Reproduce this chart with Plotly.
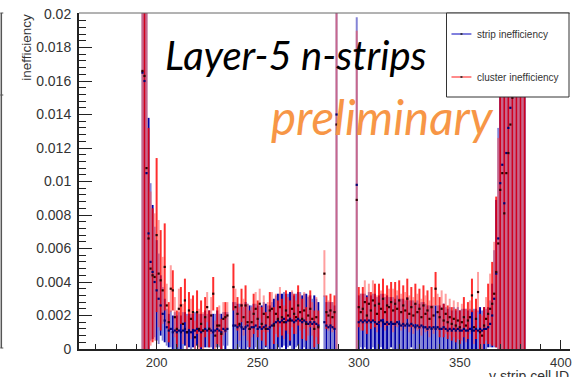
import plotly.graph_objects as go

# ---------------- data ----------------
cell_id = list(range(193, 383))

strip_ineff = [
    0.0165, 0.0160, 0.0105, 0.0069, 0.0052, 0.0046, 0.0040,
    0.0035, 0.0030, 0.0026, 0.0021, 0.0017, 0.0013, 0.0011, 0.0012, 0.0010, 0.0011,
    0.0010, 0.0011, 0.0010, 0.0011, 0.0012, 0.0010, 0.0011, 0.0010, 0.0011, 0.0011,
    0.0012, 0.0011, 0.0010, 0.0011, 0.0012, 0.0011, 0.0012, 0.0011, 0.0010, 0.0011,
    0.0012, 0.0011, 0.0010, 0.0012, 0.0011, 0.0012, None, None, 0.0014, 0.0014,
    0.0013, 0.0014, 0.0013, 0.0012, 0.0013, 0.0014, 0.0012, 0.0013, 0.0013, 0.0014,
    0.0012, 0.0013, 0.0012, 0.0013, 0.0014, 0.0012, 0.0013, 0.0014, 0.0015, 0.0016,
    0.0017, 0.0016, 0.0017, 0.0018, 0.0016, 0.0017, 0.0018, 0.0017, 0.0016, 0.0017,
    0.0018, 0.0017, 0.0016, 0.0017, 0.0016, 0.0015, 0.0016, 0.0015, 0.0016, 0.0015,
    0.0014, None, None, 0.0016, 0.0014, 0.0013, 0.0014, 0.0013, 0.0012, 0.0140,
    None, None, None, None, None, None, None, None, None, 0.0098,
    0.0016, 0.0017, 0.0016, 0.0017, 0.0016, 0.0017, 0.0016, 0.0017, 0.0016, 0.0015,
    0.0016, 0.0017, 0.0016, 0.0015, 0.0016, 0.0015, 0.0016, 0.0015, 0.0015, 0.0016,
    0.0015, 0.0014, 0.0015, 0.0014, 0.0015, 0.0014, 0.0015, 0.0014, 0.0013, 0.0014,
    0.0013, 0.0014, 0.0013, 0.0013, 0.0012, 0.0013, 0.0012, 0.0013, 0.0012, 0.0013,
    0.0012, 0.0012, 0.0013, 0.0012, 0.0011, 0.0012, 0.0011, 0.0012, 0.0011, 0.0012,
    0.0011, 0.0011, 0.0012, 0.0011, 0.0011, 0.0012, 0.0011, 0.0011, 0.0012, 0.0011,
    0.0012, 0.0011, 0.0012, 0.0012, 0.0013, 0.0015, 0.0020, 0.0030, 0.0045, 0.0066,
    0.0099, 0.0110, 0.0087, 0.0117, 0.0132, 0.0144, 0.0160, 0.0175, 0.0190, 0.0200,
    0.0210, 0.0220, 0.0230,
]

strip_err = [
    0.0170, 0.0165, 0.0110, 0.0069, 0.0047, 0.0040, 0.0033,
    0.0030, 0.0027, 0.0018, 0.0016, 0.0013, 0.0011, 0.0010, 0.0011, 0.0010, 0.0011,
    0.0010, 0.0011, 0.0010, 0.0011, 0.0010, 0.0011, 0.0010, 0.0011, 0.0010, 0.0011,
    0.0010, 0.0010, 0.0011, 0.0010, 0.0011, 0.0010, 0.0011, 0.0010, 0.0011, 0.0010,
    0.0011, 0.0010, 0.0011, 0.0010, 0.0011, 0.0010, None, None, 0.0014, 0.0014,
    0.0014, 0.0013, 0.0014, 0.0013, 0.0015, 0.0013, 0.0014, 0.0013, 0.0014, 0.0013,
    0.0014, 0.0013, 0.0014, 0.0015, 0.0013, 0.0014, 0.0013, 0.0014, 0.0015, 0.0016,
    0.0016, 0.0017, 0.0016, 0.0016, 0.0017, 0.0016, 0.0016, 0.0017, 0.0016, 0.0016,
    0.0016, 0.0017, 0.0016, 0.0016, 0.0017, 0.0016, 0.0016, 0.0015, 0.0016, 0.0015,
    0.0014, None, None, 0.0016, 0.0014, 0.0015, 0.0014, 0.0015, 0.0014, 0.0145,
    None, None, None, None, None, None, None, None, None, 0.0100,
    0.0016, 0.0016, 0.0017, 0.0016, 0.0016, 0.0017, 0.0016, 0.0016, 0.0017, 0.0016,
    0.0016, 0.0016, 0.0017, 0.0016, 0.0016, 0.0016, 0.0015, 0.0016, 0.0015, 0.0016,
    0.0015, 0.0016, 0.0015, 0.0015, 0.0016, 0.0015, 0.0014, 0.0015, 0.0014, 0.0015,
    0.0014, 0.0014, 0.0015, 0.0014, 0.0014, 0.0013, 0.0014, 0.0013, 0.0014, 0.0013,
    0.0014, 0.0013, 0.0014, 0.0013, 0.0013, 0.0013, 0.0012, 0.0013, 0.0012, 0.0013,
    0.0012, 0.0013, 0.0012, 0.0013, 0.0012, 0.0012, 0.0012, 0.0013, 0.0012, 0.0012,
    0.0013, 0.0012, 0.0013, 0.0012, 0.0012, 0.0014, 0.0019, 0.0029, 0.0044, 0.0066,
    0.0099, 0.0110, 0.0087, 0.0117, 0.0132, 0.0144, 0.0160, 0.0175, 0.0190, 0.0200,
    0.0210, 0.0220, 0.0230,
]

cluster_ineff = [
    0.0166, 0.0163, 0.0108, 0.0066, 0.0048, 0.0044, 0.0043,
    0.0068, 0.0045, 0.0041, 0.0035, 0.0049, 0.0026, 0.0016, 0.0036, 0.0035, 0.0019,
    0.0012, 0.0024, 0.0026, 0.0015, 0.0029, 0.0010, 0.0023, 0.0018, 0.0022, 0.0007,
    0.0022, 0.0012, 0.0015, 0.0011, 0.0019, 0.0025, 0.0012, 0.0020, 0.0033, 0.0008,
    0.0014, 0.0014, 0.0009, 0.0018, 0.0019, 0.0020, None, None, 0.0037, 0.0025,
    0.0021, 0.0015, 0.0026, 0.0019, 0.0026, 0.0016, 0.0012, 0.0016, 0.0021, 0.0024,
    0.0018, 0.0027, 0.0015, 0.0021, 0.0012, 0.0019, 0.0023, 0.0024, 0.0014, 0.0021,
    0.0018, 0.0025, 0.0019, 0.0016, 0.0023, 0.0020, 0.0017, 0.0024, 0.0021, 0.0019,
    0.0026, 0.0022, 0.0018, 0.0023, 0.0015, 0.0020, 0.0024, 0.0018, 0.0012, 0.0019,
    0.0013, None, None, 0.0045, 0.0022, 0.0020, 0.0023, 0.0019, 0.0022, 0.0134,
    None, None, None, None, None, None, None, None, None, 0.0089,
    0.0025, 0.0022, 0.0024, 0.0028, 0.0020, 0.0027, 0.0023, 0.0029, 0.0026, 0.0021,
    0.0027, 0.0024, 0.0030, 0.0022, 0.0026, 0.0025, 0.0028, 0.0023, 0.0027, 0.0024,
    0.0029, 0.0022, 0.0026, 0.0023, 0.0030, 0.0021, 0.0025, 0.0020, 0.0027, 0.0022,
    0.0024, 0.0019, 0.0026, 0.0021, 0.0023, 0.0018, 0.0025, 0.0020, 0.0036, 0.0022,
    0.0019, 0.0024, 0.0017, 0.0021, 0.0016, 0.0019, 0.0015, 0.0018, 0.0014, 0.0017,
    0.0013, 0.0016, 0.0019, 0.0014, 0.0017, 0.0019, 0.0032, 0.0013, 0.0018, 0.0034,
    0.0010, 0.0008, 0.0014, 0.0018, 0.0021, 0.0024, 0.0027, 0.0033, 0.0046, 0.0063,
    0.0095, 0.0105, 0.0081, 0.0105, 0.0117, 0.0134, 0.0150, 0.0168, 0.0185, 0.0200,
    0.0210, 0.0215, 0.0225,
]

cluster_err = [
    0.0172, 0.0168, 0.0115, 0.0066, 0.0046, 0.0040, 0.0038,
    0.0046, 0.0032, 0.0030, 0.0020, 0.0026, 0.0013, 0.0012, 0.0014, 0.0012, 0.0012,
    0.0011, 0.0012, 0.0011, 0.0012, 0.0013, 0.0010, 0.0011, 0.0012, 0.0010, 0.0010,
    0.0013, 0.0012, 0.0014, 0.0011, 0.0012, 0.0009, 0.0011, 0.0011, 0.0010, 0.0009,
    0.0011, 0.0012, 0.0009, 0.0010, 0.0009, 0.0008, None, None, 0.0014, 0.0011,
    0.0010, 0.0010, 0.0010, 0.0011, 0.0012, 0.0011, 0.0011, 0.0009, 0.0012, 0.0010,
    0.0011, 0.0009, 0.0010, 0.0011, 0.0010, 0.0009, 0.0011, 0.0010, 0.0011, 0.0012,
    0.0011, 0.0012, 0.0011, 0.0010, 0.0012, 0.0011, 0.0012, 0.0011, 0.0012, 0.0010,
    0.0012, 0.0011, 0.0012, 0.0011, 0.0010, 0.0012, 0.0011, 0.0010, 0.0011, 0.0012,
    0.0010, None, None, 0.0014, 0.0010, 0.0009, 0.0010, 0.0009, 0.0010, 0.0140,
    None, None, None, None, None, None, None, None, None, 0.0101,
    0.0012, 0.0011, 0.0013, 0.0013, 0.0011, 0.0012, 0.0011, 0.0012, 0.0013, 0.0011,
    0.0012, 0.0011, 0.0012, 0.0011, 0.0012, 0.0011, 0.0012, 0.0013, 0.0013, 0.0011,
    0.0012, 0.0011, 0.0012, 0.0011, 0.0012, 0.0011, 0.0012, 0.0011, 0.0012, 0.0011,
    0.0012, 0.0011, 0.0012, 0.0011, 0.0012, 0.0011, 0.0012, 0.0011, 0.0010, 0.0011,
    0.0012, 0.0011, 0.0010, 0.0012, 0.0010, 0.0011, 0.0010, 0.0011, 0.0010, 0.0011,
    0.0010, 0.0011, 0.0012, 0.0010, 0.0011, 0.0010, 0.0010, 0.0010, 0.0012, 0.0012,
    0.0011, 0.0012, 0.0011, 0.0013, 0.0018, 0.0021, 0.0025, 0.0031, 0.0045, 0.0063,
    0.0095, 0.0105, 0.0081, 0.0105, 0.0117, 0.0134, 0.0150, 0.0168, 0.0185, 0.0200,
    0.0210, 0.0215, 0.0225,
]

y_ticks = [0, 0.002, 0.004, 0.006, 0.008, 0.01, 0.012, 0.014, 0.016, 0.018, 0.02]
y_tick_text = ["0", "0.002", "0.004", "0.006", "0.008", "0.01", "0.012",
               "0.014", "0.016", "0.018", "0.02"]
x_ticks = [200, 250, 300, 350, 400]
x_tick_text = ["200", "250", "300", "350", "400"]

series_names = ["strip inefficiency", "cluster inefficiency"]

# ---------------- figure ----------------
W, H = 572, 377
L, R, T, B = 79, 0, 13, 28
PW, PH = W - L - R, H - T - B


def px(xp):
    return (xp - L) / PW


def py(yp):
    return (H - B - yp) / PH


fig = go.Figure()


def split(vals, errs, parity):
    xs, ys, es = [], [], []
    for i, v, e in zip(cell_id, vals, errs):
        if v is None or i % 2 != parity:
            continue
        xs.append(i)
        ys.append(v)
        es.append(e)
    return xs, ys, es


styles = [
    (strip_ineff, strip_err, ("#0000a8", "#8484d6")),
    (cluster_ineff, cluster_err, ("rgba(255,0,0,0.82)", "rgba(255,80,80,0.55)")),
]

for vals, errs, cols in styles:
    for parity in (0, 1):
        xs, ys, es = split(vals, errs, parity)
        fig.add_trace(go.Scatter(
            x=xs, y=ys, mode="markers",
            marker=dict(size=1, color="rgba(0,0,0,0)"),
            error_y=dict(type="data", array=es, visible=True,
                         color=cols[parity], thickness=2, width=0),
            showlegend=False, hoverinfo="skip"))

dot_colors = ["#000070", "#300000"]
for (vals, errs, _), dc in zip(styles, dot_colors):
    xs = [i for i, v in zip(cell_id, vals) if v is not None]
    ys = [v for v in vals if v is not None]
    fig.add_trace(go.Scatter(
        x=xs, y=ys, mode="markers",
        marker=dict(size=2.2, color=dc, symbol="square", line=dict(width=0)),
        showlegend=False, hoverinfo="skip"))

axis_font = dict(family="Liberation Sans, Arial, sans-serif", color="#333333")

fig.update_layout(
    width=W, height=H,
    margin=dict(l=L, r=R, t=T, b=B, pad=0),
    paper_bgcolor="white", plot_bgcolor="white",
    showlegend=False,
    xaxis=dict(
        range=[161.6, 404.5], showgrid=False, zeroline=False,
        showline=True, linecolor="#222222", linewidth=2,
        ticks="inside", ticklen=9, tickwidth=1, tickcolor="#222222",
        tickvals=x_ticks, ticktext=x_tick_text,
        tickfont=dict(size=13, **axis_font),
        ticklabeloverflow="allow",
        ticklabelstandoff=0,
        minor=dict(ticks="inside", ticklen=5, dtick=10, tick0=0,
                   tickcolor="#222222", tickwidth=1, showgrid=False),
    ),
    yaxis=dict(
        range=[0, 0.02006], showgrid=False, zeroline=False,
        showline=True, linecolor="#222222", linewidth=2,
        ticks="inside", ticklen=13, tickwidth=1, tickcolor="#222222",
        tickvals=y_ticks, ticktext=y_tick_text,
        tickfont=dict(size=14, **axis_font),
        ticklabelstandoff=3,
        minor=dict(ticks="inside", ticklen=7, dtick=0.0004, tick0=0,
                   tickcolor="#222222", tickwidth=1, showgrid=False),
    ),
)

shapes = []
# top frame line
shapes.append(dict(type="line", xref="paper", yref="paper",
                   x0=0, x1=px(W), y0=py(13), y1=py(13),
                   line=dict(color="#666666", width=1)))
# neighbouring frame at far left
shapes.append(dict(type="line", xref="paper", yref="paper",
                   x0=px(1), x1=px(1), y0=py(13), y1=py(348),
                   line=dict(color="#555555", width=1.5)))
for yy in (13, 95, 348):
    shapes.append(dict(type="line", xref="paper", yref="paper",
                       x0=px(0), x1=px(3), y0=py(yy), y1=py(yy),
                       line=dict(color="#555555", width=1)))
# legend box
shapes.append(dict(type="rect", xref="paper", yref="paper", layer="above",
                   x0=px(448), x1=px(571), y0=py(97), y1=py(13),
                   fillcolor="white", line=dict(color="#333333", width=1)))
leg_cols = ["#2a2ac8", "#ff3c3c"]
leg_y = [34, 77]
for c, yy in zip(leg_cols, leg_y):
    shapes.append(dict(type="line", xref="paper", yref="paper", layer="above",
                       x0=px(453), x1=px(473), y0=py(yy), y1=py(yy),
                       line=dict(color=c, width=1.2)))
    shapes.append(dict(type="rect", xref="paper", yref="paper", layer="above",
                       x0=px(462), x1=px(464), y0=py(yy + 0.8), y1=py(yy - 0.8),
                       fillcolor="#222222", line=dict(width=0)))
fig.update_layout(shapes=shapes)

ann = []
for name, yy in zip(series_names, leg_y):
    ann.append(dict(xref="paper", yref="paper", x=px(477), y=py(yy),
                    xanchor="left", yanchor="middle", showarrow=False,
                    text=name, font=dict(size=10, **axis_font)))
# axis titles
ann.append(dict(xref="paper", yref="paper", x=px(26), y=py(12),
                xanchor="center", yanchor="top", showarrow=False,
                textangle=-90, text="inefficiency",
                font=dict(size=13.5, **axis_font)))
ann.append(dict(xref="paper", yref="paper", x=px(489), y=py(366),
                xanchor="left", yanchor="top", showarrow=False,
                text="y strip cell ID", font=dict(size=14, **axis_font)))
# overlay labels
ann.append(dict(xref="paper", yref="paper", x=px(163), y=py(55),
                xanchor="left", yanchor="middle", showarrow=False,
                text="<i>Layer-5 n-strips</i>",
                font=dict(family="Lato, sans-serif", size=40, color="black")))
ann.append(dict(xref="paper", yref="paper", x=px(270), y=py(116),
                xanchor="left", yanchor="middle", showarrow=False,
                text="<i>preliminary</i>",
                font=dict(family="Lato, sans-serif", size=47.5, color="#f79646")))
fig.update_layout(annotations=ann)

fig.write_html("out.html")
